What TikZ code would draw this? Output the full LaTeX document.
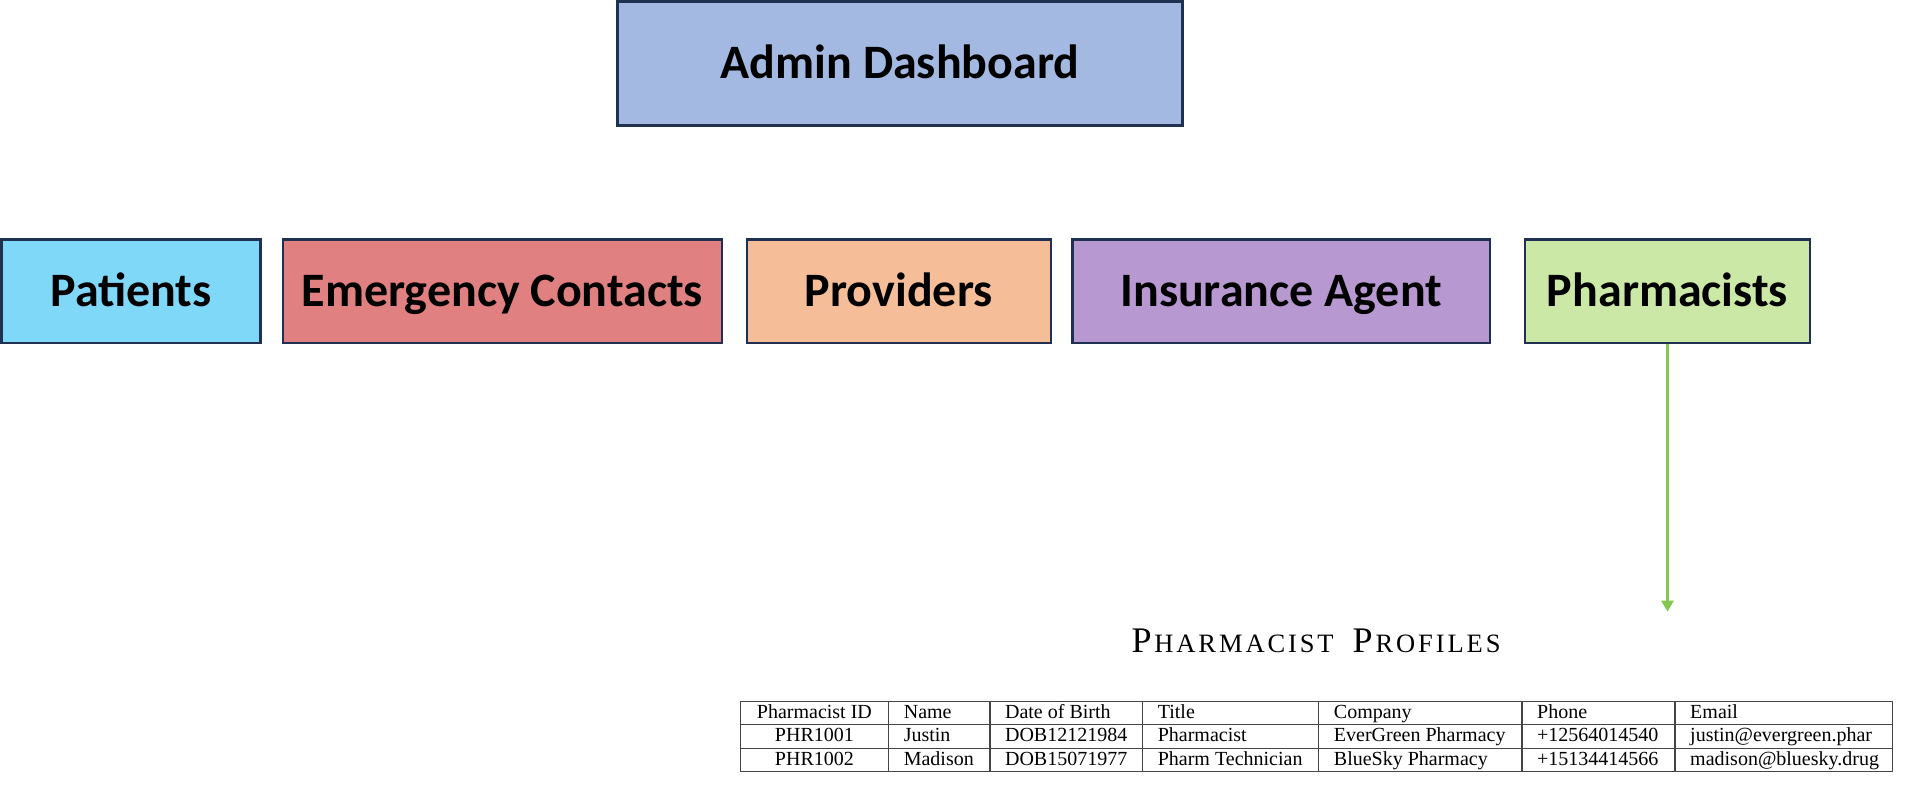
\documentclass[tikz,border=0pt]{standalone}
\usepackage{fontspec}
\setmainfont{Liberation Serif}
\newfontfamily\boxfont{Carlito}
\usetikzlibrary{arrows.meta}
\definecolor{cadmin}{HTML}{A3B9E2}
\definecolor{cpat}{HTML}{80D8F9}
\definecolor{cemer}{HTML}{E08080}
\definecolor{cprov}{HTML}{F5BE99}
\definecolor{cins}{HTML}{B898D0}
\definecolor{cpharm}{HTML}{CBE8A6}
\definecolor{cnavy}{HTML}{1F3050}
\definecolor{cgreen}{HTML}{82C850}
\definecolor{cgrid}{HTML}{454545}
\newcommand\ttlbig{\fontsize{36}{42}\selectfont}
\newcommand\ttlsm{\fontsize{26.5}{31}\selectfont}
\newcommand\lsp{\kern2.9pt}
\tikzset{
  catbox/.style={draw=cnavy, line width=2.5pt, minimum height=103.7pt, inner sep=0pt,
    font=\boxfont\bfseries\fontsize{48}{56}\selectfont, text height=30.5pt, text depth=0pt},
  link/.style={draw=cgreen, line width=3.3pt, -{Triangle[width=12pt,length=11pt]}},
  grid/.style={draw=cgrid, line width=1.3pt},
  cell/.style={anchor=base west, inner sep=0pt, font=\fontsize{20}{24}\selectfont},
  cellc/.style={anchor=base, inner sep=0pt, font=\fontsize{20}{24}\selectfont}
}
\begin{document}
\begin{tikzpicture}[x=1pt,y=-1pt]
\useasboundingbox (0,0) rectangle (1906,800);
% boxes
\node[catbox, fill=cadmin, minimum width=565.3pt, minimum height=124pt] (admin) at (900,63.7) {Admin Dashboard};
\node[catbox, fill=cpat, minimum width=259pt] (pat) at (131,291.3) {Patients};
\node[catbox, fill=cemer, minimum width=439.4pt] (emer) at (502.5,291.3) {Emergency Contacts};
\node[catbox, fill=cprov, minimum width=304pt] (prov) at (898.8,291.3) {Providers};
\node[catbox, fill=cins, minimum width=417.5pt] (ins) at (1281.2,291.3) {Insurance Agent};
\node[catbox, fill=cpharm, minimum width=285pt] (pharm) at (1667.5,291.3) {Pharmacists};
% arrow
\coordinate (arrtip) at (1667.5,611.7);
\draw[link] (pharm.south) -- (arrtip);
% title
\node[anchor=base, inner sep=0pt] (title) at (1316,652.3)
  {{\ttlbig P}\lsp{\ttlsm H\lsp A\lsp R\lsp M\lsp A\lsp C\lsp I\lsp S\lsp T}\hspace{19pt}{\ttlbig P}\lsp{\ttlsm R\lsp O\lsp F\lsp I\lsp L\lsp E\lsp S}};
% table grid
\draw[grid] (740.2,701.3) rectangle (1892.5,771.8);
\foreach \yy in {724.8,748.3} \draw[grid] (740.2,\yy) -- (1892.5,\yy);
\foreach \xx in {888.6,989.9,1142.6,1318.7,1522,1675} \draw[grid] (\xx,701.3) -- (\xx,771.8);
% header
\node[cellc] (h1) at (814.4,718.3) {Pharmacist ID};
\node[cell] (h2) at (903.6,718.3) {Name};
\node[cell] (h3) at (1004.9,718.3) {Date of Birth};
\node[cell] (h4) at (1157.6,718.3) {Title};
\node[cell] (h5) at (1333.7,718.3) {Company};
\node[cell] (h6) at (1537,718.3) {Phone};
\node[cell] (h7) at (1690,718.3) {Email};
% row 1
\node[cellc] (a1) at (814.4,741.8) {PHR1001};
\node[cell] (a2) at (903.6,741.8) {Justin};
\node[cell] (a3) at (1004.9,741.8) {DOB12121984};
\node[cell] (a4) at (1157.6,741.8) {Pharmacist};
\node[cell] (a5) at (1333.7,741.8) {EverGreen Pharmacy};
\node[cell] (a6) at (1537,741.8) {+12564014540};
\node[cell] (a7) at (1690,741.8) {justin@evergreen.phar};
% row 2
\node[cellc] (b1) at (814.4,765.3) {PHR1002};
\node[cell] (b2) at (903.6,765.3) {Madison};
\node[cell] (b3) at (1004.9,765.3) {DOB15071977};
\node[cell] (b4) at (1157.6,765.3) {Pharm Technician};
\node[cell] (b5) at (1333.7,765.3) {BlueSky Pharmacy};
\node[cell] (b6) at (1537,765.3) {+15134414566};
\node[cell] (b7) at (1690,765.3) {madison@bluesky.drug};
\end{tikzpicture}
\end{document}
